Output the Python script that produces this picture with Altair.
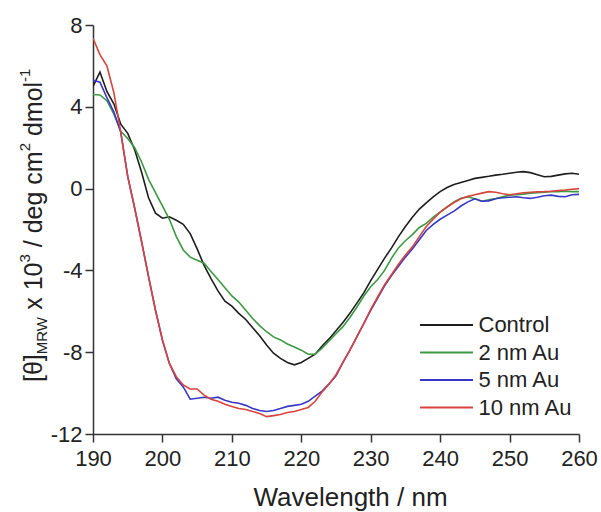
import altair as alt
import pandas as pd

# ---------------- data ----------------
wavelength = list(range(190, 261))

control = [5.0, 5.7, 4.75, 4.15, 3.15, 2.7, 1.9, 0.8, -0.45, -1.2,
           -1.45, -1.38, -1.55, -1.75, -2.2, -2.95, -3.75, -4.4, -5.0, -5.5,
           -5.75, -6.1, -6.4, -6.8, -7.2, -7.65, -8.05, -8.3, -8.5, -8.62,
           -8.5, -8.3, -8.1, -7.7, -7.35, -6.95, -6.55, -6.1, -5.6, -5.1,
           -4.5, -3.95, -3.4, -2.9, -2.35, -1.85, -1.4, -1.0, -0.7, -0.4,
           -0.15, 0.05, 0.2, 0.3, 0.4, 0.5, 0.55, 0.6, 0.66, 0.7,
           0.75, 0.8, 0.83, 0.78, 0.68, 0.58, 0.6, 0.66, 0.72, 0.75,
           0.7]

au2 = [4.6, 4.58, 4.3, 3.65, 2.8, 2.45, 2.0, 1.3, 0.45, -0.2,
       -0.85, -1.5, -2.35, -3.0, -3.35, -3.5, -3.65, -4.05, -4.45, -4.85,
       -5.25, -5.55, -5.95, -6.35, -6.7, -7.0, -7.25, -7.4, -7.6, -7.75,
       -7.9, -8.1, -8.1, -7.8, -7.45, -7.1, -6.75, -6.3, -5.8, -5.25,
       -4.8, -4.45, -4.0, -3.4, -2.9, -2.55, -2.25, -1.9, -1.7, -1.4,
       -1.15, -0.9, -0.65, -0.47, -0.4, -0.5, -0.62, -0.55, -0.48, -0.4,
       -0.32, -0.3, -0.27, -0.23, -0.2, -0.18, -0.15, -0.15, -0.13, -0.15,
       -0.15]

au5 = [5.3, 5.2, 4.45, 3.75, 2.75, 0.6, -0.95, -2.6, -4.3, -5.95,
       -7.4, -8.55, -9.3, -9.7, -10.3, -10.25, -10.2, -10.25, -10.2, -10.35,
       -10.45, -10.5, -10.6, -10.75, -10.85, -10.9, -10.85, -10.75, -10.65, -10.6,
       -10.55, -10.4, -10.15, -9.9, -9.55, -9.15, -8.5, -7.9, -7.25, -6.6,
       -5.95, -5.35, -4.75, -4.25, -3.8, -3.35, -2.95, -2.5, -2.05, -1.75,
       -1.5, -1.3, -1.1, -0.85, -0.65, -0.5, -0.62, -0.6, -0.5, -0.45,
       -0.42, -0.4, -0.45, -0.48, -0.42, -0.35, -0.32, -0.38, -0.4, -0.3,
       -0.28]

au10 = [7.35, 6.55, 6.0, 4.7, 2.75, 0.6, -0.95, -2.6, -4.3, -5.95,
        -7.4, -8.55, -9.2, -9.6, -9.8, -9.8, -10.1, -10.3, -10.4, -10.55,
        -10.65, -10.75, -10.8, -10.9, -11.0, -11.15, -11.1, -11.05, -10.95, -10.9,
        -10.8, -10.7, -10.4, -9.95, -9.55, -9.1, -8.5, -7.9, -7.25, -6.6,
        -5.9, -5.3, -4.7, -4.2, -3.7, -3.25, -2.85, -2.35, -1.85, -1.5,
        -1.15, -0.9, -0.68, -0.5, -0.38, -0.3, -0.22, -0.15, -0.18, -0.25,
        -0.3, -0.25, -0.2, -0.18, -0.16, -0.15, -0.13, -0.1, -0.07, -0.03,
        0.0]

series_names = ["Control", "2 nm Au", "5 nm Au", "10 nm Au"]
series_colors = ["#1e1e1e", "#3d9843", "#3838c6", "#d8443c"]
x_ticks = [190, 200, 210, 220, 230, 240, 250, 260]
y_ticks = [-12, -8, -4, 0, 4, 8]

rows = []
for k, (name, vals) in enumerate(zip(series_names, [control, au2, au5, au10])):
    for w, v in zip(wavelength, vals):
        rows.append({"wavelength": w, "theta": v, "series": name, "k": k})
df = pd.DataFrame(rows)

FONT = "Liberation Sans"
INK = "#222222"

lines = alt.Chart(df).mark_line(strokeWidth=1.6, clip=True).encode(
    x=alt.X("wavelength:Q",
            scale=alt.Scale(domain=[190, 260], nice=False, zero=False),
            axis=alt.Axis(values=x_ticks, title="Wavelength / nm", grid=False,
                          tickSize=8, labelPadding=6, labelFontSize=22,
                          labelFlush=False, labelExpr="'' + datum.value",
                          titleFontSize=26, titleX=257, titleY=71,
                          titleBaseline="alphabetic", titleAlign="center")),
    y=alt.Y("theta:Q",
            scale=alt.Scale(domain=[-12, 8], nice=False, zero=False),
            axis=alt.Axis(values=y_ticks, title=None, grid=False,
                          tickSize=8, labelPadding=3, labelFontSize=22,
                          labelFlush=False, labelExpr="'' + datum.value")),
    color=alt.Color("series:N",
                    scale=alt.Scale(domain=series_names, range=series_colors),
                    sort=series_names,
                    legend=alt.Legend(orient="none", legendX=327, legendY=288,
                                      title=None, padding=0,
                                      symbolType="M-2.5,0L2.5,0", symbolSize=450,
                                      symbolStrokeWidth=2, symbolOffset=14.5,
                                      labelOffset=20, labelFontSize=22,
                                      labelFont=FONT, labelColor=INK,
                                      rowPadding=4.5)),
    order=alt.Order("k:Q"),
)

# ---- y-axis title built from pieces (sub/superscripts) ----
adv = {"[": 278, "θ": 556, "]": 278, "M": 833, "R": 722, "W": 944, " ": 278,
       "x": 500, "1": 556, "0": 556, "3": 556, "/": 278, "d": 556, "e": 556,
       "g": 556, "c": 500, "m": 833, "2": 556, "o": 556, "l": 222, "-": 333}
MAIN, SMALL = 25, 15
pieces = [("[θ]", "main"), ("MRW", "sub"), (" x 10", "main"), ("3", "sup"),
          (" / deg cm", "main"), ("2", "sup"), (" dmol", "main"), ("-1", "sup")]
base_x = {"main": -51, "sub": -46, "sup": -63}
ypos = 357.0
title_layers = []
for txt, kind in pieces:
    fs = MAIN if kind == "main" else SMALL
    lead = len(txt) - len(txt.lstrip(" "))
    ypos -= lead * adv[" "] * fs / 1000.0
    shown = txt.lstrip(" ")
    w = sum(adv[c] for c in shown) * fs / 1000.0
    layer = alt.Chart(pd.DataFrame({"t": [shown]})).mark_text(
        angle=270, align="left", baseline="alphabetic", font=FONT,
        fontSize=fs, color=INK
    ).encode(text="t:N", x=alt.value(base_x[kind]), y=alt.value(ypos))
    title_layers.append(layer)
    ypos -= w

chart = alt.layer(lines, *title_layers).properties(
    width=486, height=409,
    autosize=alt.AutoSizeParams(type="none"),
    padding={"left": 93, "top": 25, "right": 22, "bottom": 78},
).configure_view(stroke=None).configure_axis(
    domainColor="#333333", domainWidth=1.5, tickColor="#333333", tickWidth=1.5,
    labelFont=FONT, titleFont=FONT, labelColor=INK, titleColor=INK,
    titleFontWeight="normal"
)

chart.save("out.html", embed_options={"renderer": "svg", "actions": False})
